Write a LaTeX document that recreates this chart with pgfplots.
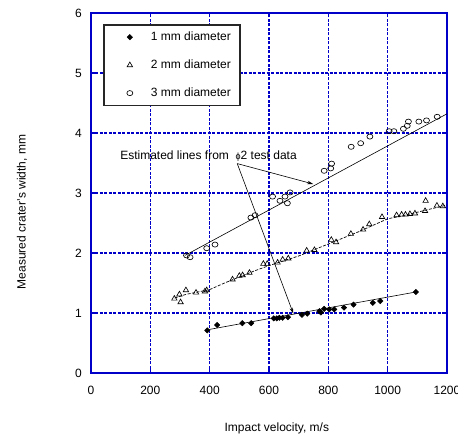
\documentclass[border=0pt]{standalone}
\usepackage{fontspec}
\setmainfont{Liberation Sans}
\usepackage{pgfplots}
\pgfplotsset{compat=1.18}
\usetikzlibrary{arrows.meta}
\definecolor{gridblue}{RGB}{0,0,200}

\pgfplotstableread{
v w
392 0.71
425 0.80
510 0.83
540 0.83
616 0.91
626 0.91
635 0.92
646 0.92
664 0.93
711 0.97
729 0.99
770 1.03
775 1.01
786 1.07
803 1.06
820 1.06
853 1.09
885 1.14
950 1.17
975 1.20
1095 1.35
}\dataone

\pgfplotstableread{
v w
281 1.24
298 1.31
302 1.18
320 1.38
354 1.34
384 1.36
390 1.38
477 1.56
500 1.62
511 1.63
534 1.67
581 1.82
594 1.82
629 1.84
646 1.89
665 1.91
727 2.04
753 2.05
810 2.22
826 2.18
876 2.32
917 2.39
938 2.48
981 2.60
1030 2.63
1047 2.64
1060 2.64
1075 2.65
1092 2.66
1126 2.70
1128 2.87
1166 2.79
1186 2.78
}\datatwo

\pgfplotstableread{
v w
322 1.96
334 1.93
390 2.08
418 2.14
539 2.59
553 2.63
612 2.94
637 2.87
654 2.94
662 2.83
671 3.01
786 3.37
808 3.41
811 3.49
877 3.77
909 3.83
940 3.94
1005 4.03
1021 4.03
1053 4.07
1066 4.12
1070 4.19
1105 4.19
1131 4.21
1167 4.27
}\datathree

\begin{document}
\fontsize{12bp}{14bp}\selectfont
\begin{tikzpicture}[font=\fontsize{12bp}{14bp}\selectfont]
\useasboundingbox (-91bp,-63bp) rectangle (367bp,373bp);
\begin{axis}[
  at={(0,0)}, anchor=south west,
  scale only axis, width=356bp, height=360bp,
  xmin=0, xmax=1200, ymin=0, ymax=6,
  xtick={0,200,...,1200}, ytick={0,1,...,6},
  /pgf/number format/assume math mode=true,
  /pgf/number format/set thousands separator={},
  axis line style={gridblue, line width=1.2pt},
  tick style={gridblue, line width=1.1pt},
  tick align=inside, major tick length=4bp,
  grid=major,
  major grid style={gridblue, line width=1.1pt, dash pattern=on 3bp off 1.5bp},
  xticklabel style={yshift=-9bp},
  yticklabel style={xshift=-5bp},
  xlabel={Impact velocity, m/s},
  xlabel style={at={(axis description cs:0.522,-0.153)}, anchor=center},
  ylabel={Measured crater's width, mm},
  ylabel style={at={(axis description cs:-0.194,0.447)}, anchor=center},
  legend style={at={(axis description cs:0.034,0.969)}, anchor=north west,
    draw=black!85, line width=1.5pt, fill=white,
    inner xsep=7bp, inner ysep=5bp, row sep=13.5bp,
    font=\fontsize{12bp}{14bp}\selectfont},
  legend cell align=left,
  legend image code/.code={\path[draw=none, fill=none] (4bp,0bp) -- (42bp,0bp);
    \draw[#1, only marks] plot coordinates {(23bp,0bp)};},
]
\addplot[only marks, mark=square*, mark size=1.9bp, mark options={rotate=45, fill=black, line width=0.5pt}, black] table[x=v,y=w] {\dataone};
\addlegendentry{1 mm diameter\hspace{4bp}}
\addplot[only marks, mark=triangle, mark size=3.1bp, mark options={line width=0.65pt}, black] table[x=v,y=w] {\datatwo};
\addlegendentry{2 mm diameter\hspace{4bp}}
\addplot[only marks, mark=o, mark size=3bp, mark options={yscale=0.85, line width=0.65pt}, black] table[x=v,y=w] {\datathree};
\addlegendentry{3 mm diameter\hspace{4bp}}

\addplot[forget plot, black, line width=0.6pt] coordinates {(392,0.72) (1095,1.35)};
\addplot[forget plot, black, line width=0.6pt] coordinates {(317,1.96) (1200,4.32)};
\addplot[forget plot, black, line width=0.7pt, dash pattern=on 3bp off 1.5bp] coordinates {
(282,1.25) (320,1.31) (400,1.39) (450,1.50) (500,1.60) (550,1.70) (600,1.79) (650,1.87) (700,1.95) (750,2.05) (800,2.15) (850,2.25) (900,2.35) (950,2.46) (1000,2.57) (1050,2.62) (1100,2.68) (1150,2.74) (1200,2.80)};

\node[anchor=west, inner sep=0pt] at (axis cs:98,3.62) {Estimated lines from \ {\fontsize{9bp}{10bp}\selectfont ϕ}2 test data};
\draw[-{Stealth[length=6bp,width=3.5bp]}, line width=0.6pt] (axis cs:493,3.49) -- (axis cs:749,3.15);
\draw[-{Stealth[length=6bp,width=3.5bp]}, line width=0.6pt] (axis cs:493,3.49) -- (axis cs:682,0.99);
\end{axis}
\end{tikzpicture}
\end{document}
